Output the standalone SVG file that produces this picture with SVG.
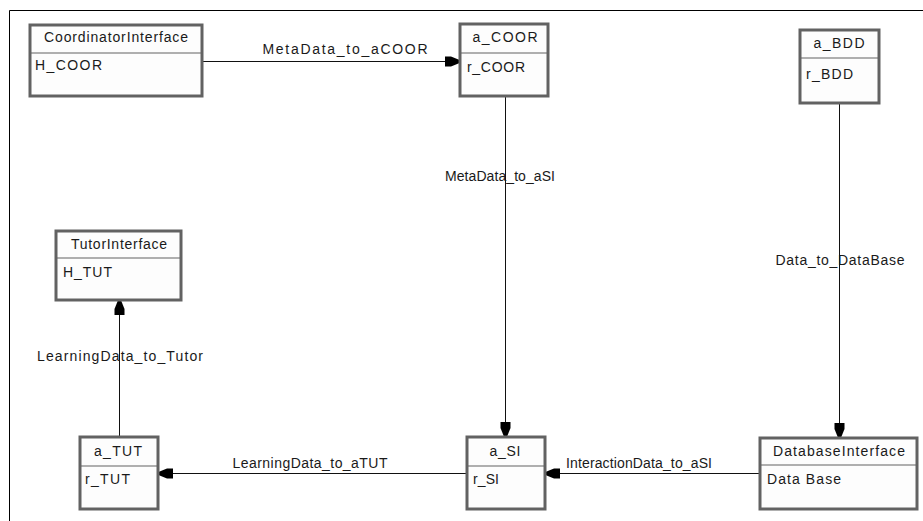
<svg xmlns="http://www.w3.org/2000/svg" width="923" height="521" viewBox="0 0 923 521">
<style>
  .box { fill: #fdfdfd; stroke: #626262; stroke-width: 3; }
  .div { stroke: #626262; stroke-width: 1.2; }
  text { font-family: "Liberation Sans", Arial, sans-serif; font-size: 14px; fill: #1a1a1a; }
  .h { text-anchor: middle; }
  .lbl { text-anchor: middle; }
  .edge { stroke: #111; stroke-width: 1; fill: none; marker-end: url(#arr); }
  .frame { stroke: #000; stroke-width: 1; fill: none; }
</style>
<defs>
  <marker id="arr" markerUnits="userSpaceOnUse" markerWidth="16" markerHeight="12" viewBox="0 -6 16 12" refX="15" refY="0" orient="auto">
    <path d="M1,-5 L7,-5 L15,-1.8 L15,1.8 L7,5 L1,5 Z" fill="#000"/>
  </marker>
</defs>
<rect width="923" height="521" fill="#fff"/>
<path class="frame" d="M9.5,521 V10.5 H923"/>

<g id="connectors">
  <line class="edge" x1="203" y1="61.5" x2="459" y2="61.5"/>
  <text class="lbl" x="345" y="54" textLength="165" lengthAdjust="spacing">MetaData_to_aCOOR</text>
  <line class="edge" x1="505.5" y1="97" x2="505.5" y2="436"/>
  <text class="lbl" x="500" y="181" textLength="110" lengthAdjust="spacing">MetaData_to_aSI</text>
  <line class="edge" x1="839.5" y1="104" x2="839.5" y2="437"/>
  <text class="lbl" x="840" y="265" textLength="129" lengthAdjust="spacing">Data_to_DataBase</text>
  <line class="edge" x1="759" y1="473.5" x2="546" y2="473.5"/>
  <text class="lbl" x="639" y="468" textLength="146" lengthAdjust="spacing">InteractionData_to_aSI</text>
  <line class="edge" x1="466" y1="473.5" x2="159" y2="473.5"/>
  <text class="lbl" x="310" y="468" textLength="155" lengthAdjust="spacing">LearningData_to_aTUT</text>
  <line class="edge" x1="119.5" y1="436" x2="119.5" y2="301"/>
  <text class="lbl" x="120" y="361" textLength="166" lengthAdjust="spacing">LearningData_to_Tutor</text>
</g>

<g id="CoordinatorInterface">
  <rect class="box" x="30" y="25" width="172" height="71"/>
  <line class="div" x1="30" y1="53" x2="202" y2="53"/>
  <text class="h" x="116" y="42" textLength="144" lengthAdjust="spacing">CoordinatorInterface</text>
  <text x="35" y="70" textLength="67" lengthAdjust="spacing">H_COOR</text>
</g>

<g id="a_COOR">
  <rect class="box" x="460" y="24" width="88" height="72"/>
  <line class="div" x1="460" y1="53" x2="548" y2="53"/>
  <text class="h" x="505" y="42" textLength="65" lengthAdjust="spacing">a_COOR</text>
  <text x="467" y="72" textLength="58" lengthAdjust="spacing">r_COOR</text>
</g>

<g id="a_BDD">
  <rect class="box" x="800" y="30" width="79" height="73"/>
  <line class="div" x1="800" y1="58" x2="879" y2="58"/>
  <text class="h" x="839" y="48" textLength="51" lengthAdjust="spacing">a_BDD</text>
  <text x="806" y="79" textLength="47" lengthAdjust="spacing">r_BDD</text>
</g>

<g id="TutorInterface">
  <rect class="box" x="56" y="231" width="125" height="69"/>
  <line class="div" x1="56" y1="258" x2="181" y2="258"/>
  <text class="h" x="119" y="249" textLength="96" lengthAdjust="spacing">TutorInterface</text>
  <text x="63" y="277" textLength="49" lengthAdjust="spacing">H_TUT</text>
</g>

<g id="a_TUT">
  <rect class="box" x="80" y="437" width="78" height="72"/>
  <line class="div" x1="80" y1="466" x2="158" y2="466"/>
  <text class="h" x="118" y="456" textLength="48" lengthAdjust="spacing">a_TUT</text>
  <text x="85" y="484" textLength="45" lengthAdjust="spacing">r_TUT</text>
</g>

<g id="a_SI">
  <rect class="box" x="467" y="437" width="78" height="72"/>
  <line class="div" x1="467" y1="466" x2="545" y2="466"/>
  <text class="h" x="505" y="456" textLength="31" lengthAdjust="spacing">a_SI</text>
  <text x="473" y="484" textLength="26" lengthAdjust="spacing">r_SI</text>
</g>

<g id="DatabaseInterface">
  <rect class="box" x="760" y="438" width="157" height="71"/>
  <line class="div" x1="760" y1="465" x2="917" y2="465"/>
  <text class="h" x="839" y="456" textLength="132" lengthAdjust="spacing">DatabaseInterface</text>
  <text x="767" y="484" textLength="74" lengthAdjust="spacing">Data Base</text>
</g>
</svg>
